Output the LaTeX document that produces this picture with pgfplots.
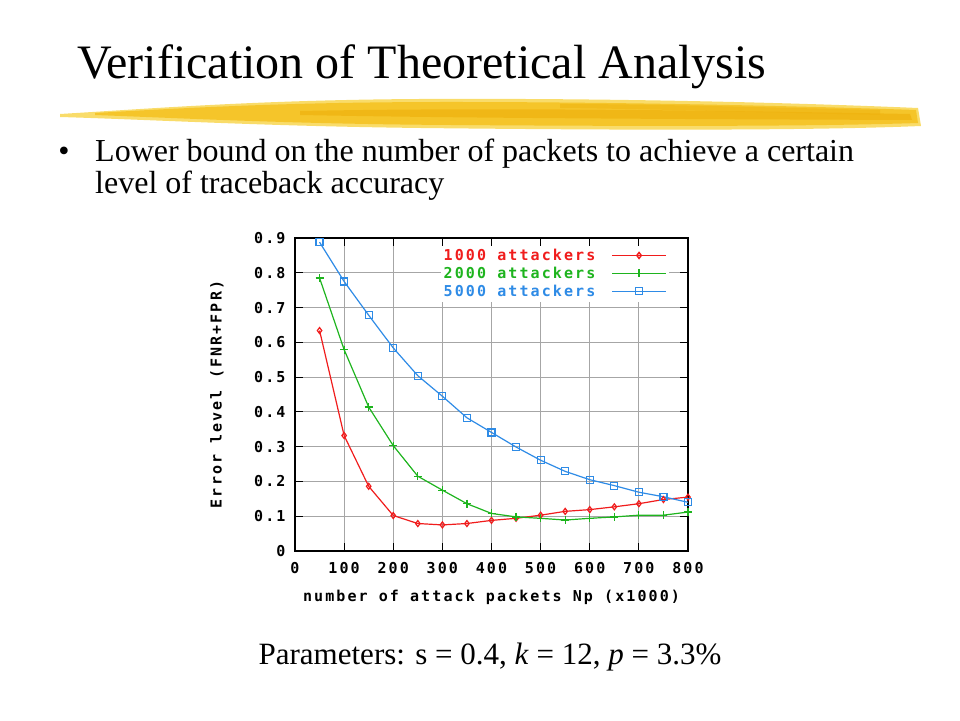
\documentclass[border=0pt]{standalone}
\usepackage{pgfplots}
\pgfplotsset{compat=1.18}
\usepackage{fontspec}
\setmainfont{Liberation Serif}
\newfontfamily\gp[LetterSpace=14]{DejaVu Sans Mono Bold}

\definecolor{gpred}{HTML}{F01C1C}
\definecolor{gpgreen}{HTML}{1EB41E}
\definecolor{gpblue}{HTML}{2E8BE6}
\definecolor{brushA}{HTML}{F5C52A}
\definecolor{brushB}{HTML}{EFB20E}
\definecolor{brushC}{HTML}{F9DC6A}

\pgfplotsset{gplegend/.style={legend image code/.code={
    \path (0pt,0pt);
    \draw[##1] (14pt,0pt) -- (68pt,0pt);
    \draw[##1, only marks] plot coordinates {(41pt,0pt)};}}}

\pgfplotstableread{
x    r      g      b
50   0.634  0.785  0.888
100  0.332  0.579  0.775
150  0.186  0.414  0.678
200  0.102  0.303  0.584
250  0.079  0.215  0.504
300  0.075  0.175  0.445
350  0.079  0.136  0.383
400  0.088  0.108  0.341
450  0.094  0.098  0.299
500  0.103  0.094  0.261
550  0.114  0.089  0.229
600  0.119  0.094  0.205
650  0.127  0.098  0.188
700  0.136  0.103  0.169
750  0.148  0.103  0.156
800  0.155  0.112  0.140
}\errdata

\begin{document}
\begin{tikzpicture}[x=1pt,y=1pt]
\useasboundingbox (0,0) rectangle (960,720);

% title
\node[anchor=base west, font=\fontsize{48}{50}\selectfont, inner sep=0pt] at (77,641) {Verification of Theoretical Analysis};

% yellow brush stroke
\fill[brushC] (60,606) .. controls (160,612) and (260,620) .. (420,621)
  .. controls (620,622) and (800,617) .. (918,612) -- (921,594)
  .. controls (800,589) and (600,590) .. (420,592)
  .. controls (260,594) and (160,600) .. (60,603) -- cycle;
\fill[brushA] (95,607) .. controls (200,613) and (300,618) .. (450,618)
  .. controls (620,618) and (800,614) .. (916,610) -- (918,597)
  .. controls (800,593) and (600,594) .. (450,595)
  .. controls (300,596) and (200,601) .. (95,605) -- cycle;
\fill[brushB, opacity=0.7] (300,609) .. controls (450,612) and (650,611) .. (910,606)
  -- (912,600) .. controls (650,601) and (450,602) .. (300,605) -- cycle;
\fill[brushB, opacity=0.5] (560,616) .. controls (650,616) and (750,613) .. (880,610)
  -- (880,605) .. controls (750,608) and (650,611) .. (560,612) -- cycle;

% bullet text
\node[anchor=base, font=\fontsize{32}{34}\selectfont, inner sep=0pt] at (64,558) {\textbullet};
\node[anchor=base west, font=\fontsize{32}{34}\selectfont, inner sep=0pt] at (95,558) {Lower bound on the number of packets to achieve a certain};
\node[anchor=base west, font=\fontsize{32}{34}\selectfont, inner sep=0pt] at (95,526) {level of traceback accuracy};

% parameters
\node[anchor=base, font=\fontsize{31}{33}\selectfont, inner sep=0pt] at (490,56) {Parameters: s = 0.4, \textit{k} = 12, \textit{p} = 3.3\%};

\begin{axis}[
    at={(295pt,169pt)}, anchor=south west,
    width=393pt, height=313pt, scale only axis,
    xmin=0, xmax=800, ymin=0, ymax=0.9,
    xtick={0,100,...,800},
    ytick={0,0.1,...,0.9},
    tick align=inside,
    major tick length=8pt,
    every tick/.style={black, line width=1.2pt},
    axis line style={black, line width=1.4pt},
    grid=major,
    major grid style={gray!70, line width=1.2pt},
    ticklabel style={font=\fontsize{15}{17}\selectfont\gp},
    xticklabel style={yshift=-8pt},
    yticklabel style={xshift=-6pt, /pgf/number format/fixed, /pgf/number format/precision=1},
    /pgf/number format/assume math mode=true,
    xlabel={number of attack packets Np (x1000)},
    ylabel={Error level (FNR+FPR)},
    every axis x label/.style={at={(rel axis cs:0.5,0)}, yshift=-46pt, anchor=center, font=\fontsize{15}{17}\selectfont\gp},
    every axis y label/.style={at={(rel axis cs:0,0.5)}, xshift=-78pt, rotate=90, anchor=center, font=\fontsize{15}{17}\selectfont\gp},
    legend plot pos=right,
    legend cell align=right,
    legend style={at={(0.949,0.975)}, anchor=north east, draw=white, fill=white,
        font=\fontsize{15}{17}\selectfont\gp, inner sep=1pt, row sep=1pt},
]
\addlegendimage{gpred, draw=gpred, line width=1.4pt, mark=diamond, mark size=3pt, mark options={solid, draw=gpred}, gplegend}
\addlegendentry{\textcolor{gpred}{1000 attackers}}
\addlegendimage{gpgreen, draw=gpgreen, line width=1.4pt, mark=+, mark size=4pt, mark options={draw=gpgreen}, gplegend}
\addlegendentry{\textcolor{gpgreen}{2000 attackers}}
\addlegendimage{gpblue, draw=gpblue, line width=1.4pt, mark=square, mark size=3.5pt, mark options={draw=gpblue}, gplegend}
\addlegendentry{\textcolor{gpblue}{5000 attackers}}
\addplot[color=gpred, line width=1.2pt, mark=diamond, mark size=3pt, mark options={solid}, forget plot] table[x=x, y=r] {\errdata};
\addplot[color=gpgreen, line width=1.2pt, mark=+, mark size=4pt, forget plot] table[x=x, y=g] {\errdata};
\addplot[color=gpblue, line width=1.2pt, mark=square, mark size=3.5pt, forget plot] table[x=x, y=b] {\errdata};
\end{axis}
\end{tikzpicture}
\end{document}
